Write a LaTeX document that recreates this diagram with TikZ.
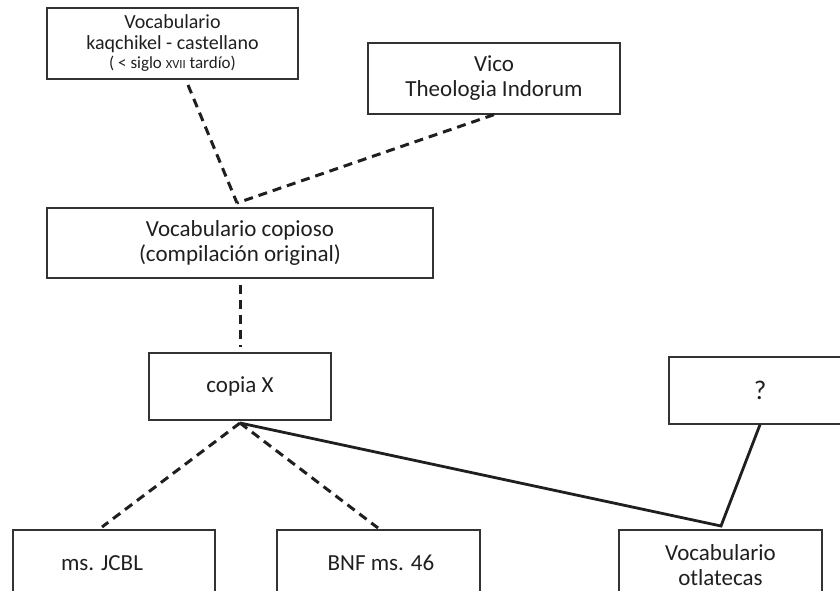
\documentclass[tikz,border=0pt]{standalone}
\usepackage{fontspec}
\setmainfont{Carlito}
\begin{document}
\begin{tikzpicture}[x=1pt,y=-1pt,
  box/.style={draw=black!80,line width=1.3pt,rectangle,inner sep=0pt,align=center,text=black!88,font=\fontsize{23}{25}\selectfont},
  dashline/.style={line width=3pt,draw=black!88,dash pattern=on 9pt off 6pt},
  solidline/.style={line width=2.8pt,draw=black!88}]
\useasboundingbox (0,0) rectangle (840,591);
\node[box,minimum width=251pt,minimum height=71pt,font=\fontsize{20}{21}\selectfont] (kaq) at (172.5,43.5)
  {Vocabulario\\kaqchikel - castellano\\[-2pt]{\fontsize{17}{18}\selectfont ( < siglo {\fontsize{12.5}{13}\selectfont XVII} tardío)}};
\node[box,minimum width=252pt,minimum height=71pt] (vico) at (494,78.5) {Vico\\Theologia Indorum};
\node[box,minimum width=386pt,minimum height=70pt] (cop) at (240,243) {Vocabulario copioso\\(compilación original)};
\node[box,minimum width=182pt,minimum height=67pt] (copia) at (240,386.5) {copia X};
\node[box,minimum width=182pt,minimum height=67pt,font=\fontsize{27}{29}\selectfont] (q) at (760,390.5) {?};
\node[box,minimum width=202pt,minimum height=66pt] (jcbl) at (114,563) {\hspace*{-24pt}ms. JCBL};
\node[box,minimum width=203pt,minimum height=66pt] (bnf) at (378.5,563) {\hspace*{5pt}BNF ms. 46};
\node[box,minimum width=203pt,minimum height=71pt] (otl) at (720.5,565.5) {Vocabulario\\otlatecas};
\coordinate (J) at (237,203);
\coordinate (kaqend) at (188,85);
\coordinate (A) at (240,423);
\coordinate (jcblend) at (102,527);
\coordinate (bnfend) at (378,528);
\coordinate (O) at (721,526);
\draw[dashline] (kaqend) -- (J);
\draw[dashline] (vico.south) -- (J);
\draw[dashline,shorten <=6pt,shorten >=5pt] (cop.south) -- (copia.north);
\draw[dashline] (A) -- (jcblend);
\draw[dashline] (A) -- (bnfend);
\draw[solidline,line join=miter] (A) -- (O) -- (q.south);
\end{tikzpicture}
\end{document}
